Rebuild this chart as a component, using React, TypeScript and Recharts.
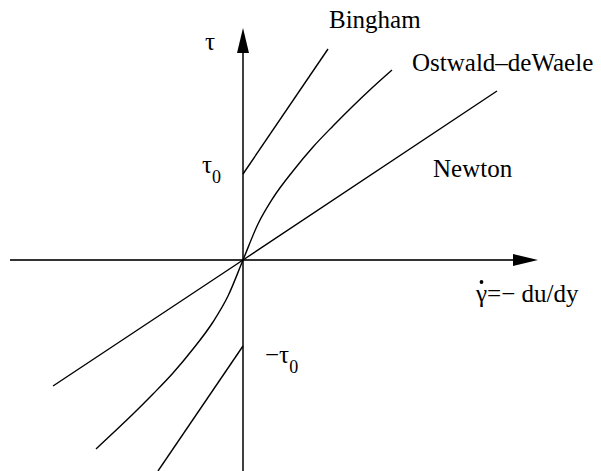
import React from "react";
import { LineChart, Line, XAxis, YAxis, ReferenceLine, ReferenceDot } from "recharts";

// Shear rate (gamma-dot) and shear stress (tau) in arbitrary units.
const newtonGamma = [-1.9, 0, 2.54];
const newtonTau = [-1.26, 0, 1.69];

const binghamUpperGamma = [0, 0.85];
const binghamUpperTau = [0.86, 2.11];
const binghamLowerGamma = [-0.85, 0];
const binghamLowerTau = [-2.11, -0.86];

// Shear-thinning power-law fluid (odd-symmetric through the origin)
const ostwaldGamma = [-1.47, -1.3, -1.1, -0.9, -0.7, -0.5, -0.3, -0.15, 0, 0.15, 0.3, 0.5, 0.7, 0.9, 1.1, 1.3, 1.49];
const ostwaldTau = [-1.89, -1.73, -1.54, -1.34, -1.13, -0.89, -0.62, -0.36, 0, 0.36, 0.62, 0.89, 1.13, 1.34, 1.54, 1.73, 1.9];

const toPoints = (xs: number[], ys: number[]) => xs.map((x, i) => ({ x, y: ys[i] }));

const newton = toPoints(newtonGamma, newtonTau);
const binghamUpper = toPoints(binghamUpperGamma, binghamUpperTau);
const binghamLower = toPoints(binghamLowerGamma, binghamLowerTau);
const ostwald = toPoints(ostwaldGamma, ostwaldTau);

const FONT = "'Liberation Serif', 'Times New Roman', serif";

// Axis line with a filled arrowhead at its end point
const ArrowAxis = (stroke: string, width: number) => (props: any) => {
  const { x1, y1, x2, y2 } = props;
  const len = Math.hypot(x2 - x1, y2 - y1) || 1;
  const ux = (x2 - x1) / len;
  const uy = (y2 - y1) / len;
  const head = 25;
  const half = 6;
  const bx = x2 - ux * head;
  const by = y2 - uy * head;
  const pts = `${x2},${y2} ${bx - uy * half},${by + ux * half} ${bx + uy * half},${by - ux * half}`;
  return (
    <g>
      <line x1={x1} y1={y1} x2={bx} y2={by} stroke={stroke} strokeWidth={width} />
      <polygon points={pts} fill="#000" />
    </g>
  );
};

const TextAt = (content: React.ReactNode) => (props: any) => (
  <text x={props.cx} y={props.cy} fontFamily={FONT} fontSize={25} fill="#000">
    {content}
  </text>
);

// Shear-rate label: gamma with an overdot
const GammaDotLabel = (props: any) => (
  <g>
    <text x={props.cx} y={props.cy} fontFamily={FONT} fontSize={25} fill="#000">
      γ=− du/dy
    </text>
    <circle cx={props.cx + 5.5} cy={props.cy - 20} r={1.9} fill="#000" />
  </g>
);

export default function App() {
  return (
    <div style={{ position: "absolute", left: 0, top: 0, background: "#fff" }}>
      <LineChart width={601} height={471} margin={{ top: 0, right: 0, bottom: 0, left: 0 }}>
        <XAxis type="number" dataKey="x" domain={[-2.43, 3.58]} hide allowDataOverflow />
        <YAxis type="number" dataKey="y" domain={[-2.11, 2.6]} hide allowDataOverflow />

        <ReferenceLine
          segment={[{ x: -2.33, y: 0 }, { x: 2.95, y: 0 }]}
          shape={ArrowAxis("#333", 1.8)}
          ifOverflow="visible"
        />
        <ReferenceLine
          segment={[{ x: 0, y: -2.11 }, { x: 0, y: 2.32 }]}
          shape={ArrowAxis("#000", 1.5)}
          ifOverflow="visible"
        />

        <Line data={newton} dataKey="y" type="linear" stroke="#000" strokeWidth={1.4} dot={false} activeDot={false} legendType="none" isAnimationActive={false} />
        <Line data={binghamUpper} dataKey="y" type="linear" stroke="#000" strokeWidth={1.4} dot={false} activeDot={false} legendType="none" isAnimationActive={false} />
        <Line data={binghamLower} dataKey="y" type="linear" stroke="#000" strokeWidth={1.4} dot={false} activeDot={false} legendType="none" isAnimationActive={false} />
        <Line data={ostwald} dataKey="y" type="monotone" stroke="#000" strokeWidth={1.4} dot={false} activeDot={false} legendType="none" isAnimationActive={false} />

        <ReferenceDot x={-0.38} y={2.1} r={0} ifOverflow="visible" shape={TextAt("τ")} />
        <ReferenceDot
          x={-0.41}
          y={0.87}
          r={0}
          ifOverflow="visible"
          shape={TextAt(
            <>
              τ<tspan fontSize={18} dy={10}>0</tspan>
            </>
          )}
        />
        <ReferenceDot
          x={0.22}
          y={-1.03}
          r={0}
          ifOverflow="visible"
          shape={TextAt(
            <>
              −τ<tspan fontSize={18} dy={10}>0</tspan>
            </>
          )}
        />
        <ReferenceDot x={0.86} y={2.32} r={0} ifOverflow="visible" shape={TextAt("Bingham")} />
        <ReferenceDot x={1.69} y={1.89} r={0} ifOverflow="visible" shape={TextAt("Ostwald–deWaele")} />
        <ReferenceDot x={1.9} y={0.83} r={0} ifOverflow="visible" shape={TextAt("Newton")} />
        <ReferenceDot x={2.33} y={-0.42} r={0} ifOverflow="visible" shape={GammaDotLabel} />
      </LineChart>
    </div>
  );
}
